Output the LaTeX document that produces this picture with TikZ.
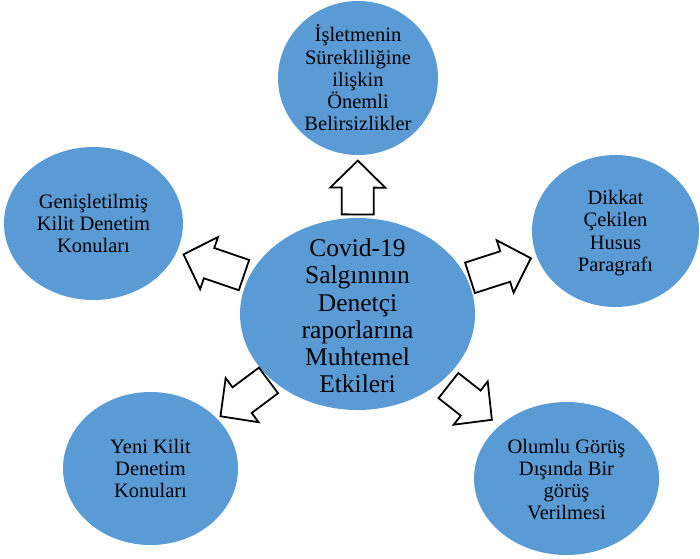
\documentclass[tikz,border=0pt]{standalone}
\usepackage{fontspec}
\setmainfont{Liberation Serif}
\usetikzlibrary{calc,shapes.geometric}
\definecolor{topicblue}{HTML}{5B9BD5}

\begin{document}
\begin{tikzpicture}
    [   x = 1pt
    ,   y = -1pt
    ,   topic/.style =
        {   ellipse
        ,   fill = topicblue
        ,   inner sep = 0mm
        ,   outer sep = 0mm
        }
    ,   topictext/.style =
        {   align = center
        ,   inner sep = 0mm
        ,   font = \fontsize{20.5}{22.3}\selectfont
        }
    ,   maintext/.style =
        {   topictext
        ,   font = \fontsize{25.5}{27.3}\selectfont
        }
    ,   blockarrow/.style =
        {   draw = black
        ,   fill = white
        ,   line width = 1.8pt
        ,   line join = miter
        }
    ]
    \useasboundingbox (0,0) rectangle (700,558);

    \node[topic, minimum width=235pt, minimum height=192pt] (C)  at (357.5,314) {};
    \node[topic, minimum width=160pt, minimum height=154pt] (E1) at (358,78)    {};
    \node[topic, minimum width=179pt, minimum height=153pt] (E2) at (93.5,223.5) {};
    \node[topic, minimum width=167pt, minimum height=152pt] (E3) at (615.5,231) {};
    \node[topic, minimum width=175pt, minimum height=153pt] (E4) at (150.5,468.5) {};
    \node[topic, minimum width=185pt, minimum height=153pt] (E5) at (566.5,478.5) {};

    \node[maintext]  (C-t)  at ($(C)+(0,2)$)  {Covid-19\\Salgınının\\Denetçi\\raporlarına\\Muhtemel\\Etkileri};
    \node[topictext] (E1-t) at (E1) {İşletmenin\\Sürekliliğine\\ilişkin\\Önemli\\Belirsizlikler};
    \node[topictext] (E2-t) at (E2) {Genişletilmiş\\Kilit Denetim\\Konuları};
    \node[topictext] (E3-t) at ($(E3)+(0,2)$) {Dikkat\\Çekilen\\Husus\\Paragrafı};
    \node[topictext] (E4-t) at (E4) {Yeni Kilit\\Denetim\\Konuları};
    \node[topictext] (E5-t) at ($(E5)+(0,1)$) {Olumlu Görüş\\Dışında Bir\\görüş\\Verilmesi};

    % block arrows from the centre towards each topic
    \foreach\e/\s/\t in {E1/0.422/0.65, E2/0.43/0.659, E3/0.436/0.672, E4/0.43/0.662, E5/0.435/0.643}
    {   \coordinate (S) at ($(C)!\s!(\e)$);
        \coordinate (T) at ($(C)!\t!(\e)$);
        \coordinate (H) at ($(T)!27pt!(S)$);
        \draw[blockarrow]
            ($(S)!16pt!90:(T)$) -- ($(H)!16pt!-90:(S)$) -- ($(H)!27.5pt!-90:(S)$)
            -- (T)
            -- ($(H)!27.5pt!90:(S)$) -- ($(H)!16pt!90:(S)$) -- ($(S)!16pt!-90:(T)$) -- cycle;
    }
\end{tikzpicture}
\end{document}
